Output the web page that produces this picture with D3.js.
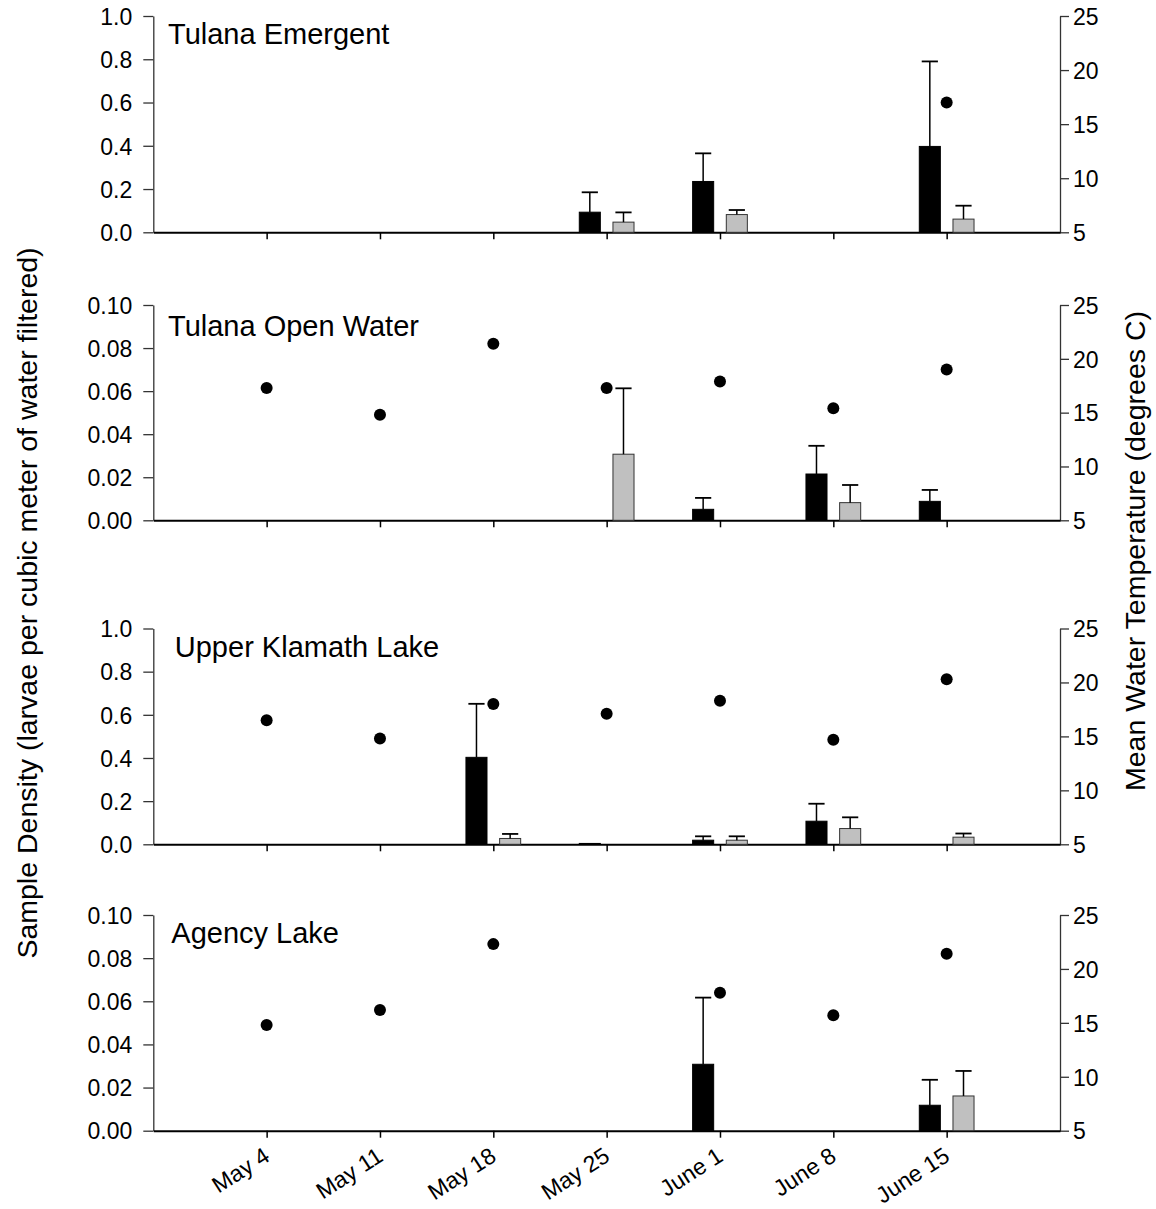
<!DOCTYPE html>
<html>
<head>
<meta charset="utf-8">
<script src="https://cdn.jsdelivr.net/npm/d3@7"></script>
<style>
  body { margin: 0; background: #fff; }
  svg text { font-family: "Liberation Sans", Arial, Helvetica, sans-serif; fill: #000; }
</style>
</head>
<body>
<svg id="chart" width="1156" height="1209"></svg>
<script>
// Sampling weeks: day offset from May 4 and the tick label for each week
const weekLabels = ["May 4", "May 11", "May 18", "May 25", "June 1", "June 8", "June 15"];
const weekDays = [0, 7, 14, 21, 28, 35, 42];

// Sites, one panel each
const siteNames = ["Tulana Emergent", "Tulana Open Water", "Upper Klamath Lake", "Agency Lake"];
const densityMax = [1.0, 0.10, 1.0, 0.10];
const densityTicksWide = [0, 0.2, 0.4, 0.6, 0.8, 1.0];
const densityTicksFine = [0, 0.02, 0.04, 0.06, 0.08, 0.10];
const tempTicks = [5, 10, 15, 20, 25];

// Mean water temperature (degrees C) per week; null = not recorded
const tempTulanaEmergent = [null, null, null, null, null, null, 17.0];
const tempTulanaOpen     = [17.3, 14.8, 21.4, 17.3, 17.9, 15.4, 19.0];
const tempUpperKlamath   = [16.5, 14.8, 18.0, 17.1, 18.3, 14.7, 20.3];
const tempAgency         = [14.8, 16.2, 22.3, null, 17.8, 15.7, 21.4];

// Black bars: mean density and its standard error
const blackMeanTulanaEmergent = [null, null, null, 0.093, 0.235, null, 0.397];
const blackErrTulanaEmergent  = [null, null, null, 0.092, 0.130, null, 0.393];
const blackMeanTulanaOpen     = [null, null, null, null, 0.0051, 0.0215, 0.0088];
const blackErrTulanaOpen      = [null, null, null, null, 0.0053, 0.0131, 0.0053];
const blackMeanUpperKlamath   = [null, null, 0.403, 0.004, 0.019, 0.107, null];
const blackErrUpperKlamath    = [null, null, 0.248, 0.0, 0.018, 0.081, null];
const blackMeanAgency         = [null, null, null, null, 0.0308, null, 0.0118];
const blackErrAgency          = [null, null, null, null, 0.0309, null, 0.0118];

// Grey bars: mean density and its standard error
const greyMeanTulanaEmergent = [null, null, null, 0.047, 0.082, null, 0.061];
const greyErrTulanaEmergent  = [null, null, null, 0.045, 0.021, null, 0.062];
const greyMeanTulanaOpen     = [null, null, null, 0.0307, null, 0.0082, null];
const greyErrTulanaOpen      = [null, null, null, 0.0306, null, 0.0082, null];
const greyMeanUpperKlamath   = [null, null, 0.027, null, 0.019, 0.073, 0.033];
const greyErrUpperKlamath    = [null, null, 0.021, null, 0.018, 0.052, 0.017];
const greyMeanAgency         = [null, null, null, null, null, null, 0.0161];
const greyErrAgency          = [null, null, null, null, null, null, 0.0116];

// ---- assemble per-panel series ----
const panels = [
  { temp: tempTulanaEmergent, bm: blackMeanTulanaEmergent, be: blackErrTulanaEmergent, gm: greyMeanTulanaEmergent, ge: greyErrTulanaEmergent, ticks: densityTicksWide, fmt: ".1f" },
  { temp: tempTulanaOpen,     bm: blackMeanTulanaOpen,     be: blackErrTulanaOpen,     gm: greyMeanTulanaOpen,     ge: greyErrTulanaOpen,     ticks: densityTicksFine, fmt: ".2f" },
  { temp: tempUpperKlamath,   bm: blackMeanUpperKlamath,   be: blackErrUpperKlamath,   gm: greyMeanUpperKlamath,   ge: greyErrUpperKlamath,   ticks: densityTicksWide, fmt: ".1f" },
  { temp: tempAgency,         bm: blackMeanAgency,         be: blackErrAgency,         gm: greyMeanAgency,         ge: greyErrAgency,         ticks: densityTicksFine, fmt: ".2f" }
].map((p, i) => Object.assign(p, { name: siteNames[i], max: densityMax[i] }));

// ---- layout ----
const plotLeft = 153.3, plotRight = 1060;
const bands = [[16, 232.3], [305, 520.3], [628.5, 844.3], [915, 1130.7]];
const titlePos = [[14.7, 28], [14.7, 30.5], [21.5, 28.5], [18, 27.5]];
const tickFont = "23px";
const barWidthDays = 1.3;
const barShiftDays = 1.04;
const capWidthDays = 1.0;

const svg = d3.select("#chart");
const x = d3.scaleLinear().domain([-7, 49]).range([plotLeft, plotRight]);
const barW = x(barWidthDays) - x(0);
const capW = x(capWidthDays) - x(0);

panels.forEach((p, i) => {
  const [top, bottom] = bands[i];
  const y = d3.scaleLinear().domain([0, p.max]).range([bottom, top]);
  const yT = d3.scaleLinear().domain([5, 25]).range([bottom, top]);
  const g = svg.append("g");

  // left density axis
  const la = g.append("g").attr("transform", `translate(${plotLeft},0)`)
    .call(d3.axisLeft(y).tickValues(p.ticks).tickFormat(d3.format(p.fmt)).tickSize(10).tickSizeOuter(0));
  la.select(".domain").attr("stroke", "#333").attr("stroke-width", 1.3);
  la.selectAll(".tick line").attr("stroke", "#333").attr("stroke-width", 1.3);
  la.selectAll(".tick text").attr("x", -21).attr("dy", "0.36em")
    .style("font-size", tickFont);

  // right temperature axis
  const ra = g.append("g").attr("transform", `translate(${plotRight},0)`)
    .call(d3.axisRight(yT).tickValues(tempTicks).tickSize(9).tickSizeOuter(0));
  ra.select(".domain").attr("stroke", "#333").attr("stroke-width", 1.3);
  ra.selectAll(".tick line").attr("stroke", "#333").attr("stroke-width", 1.3);
  ra.selectAll(".tick text").attr("x", 13).attr("dy", "0.36em")
    .style("font-size", tickFont);

  // bottom date axis
  const isLast = i === panels.length - 1;
  const xa = g.append("g").attr("transform", `translate(0,${bottom})`)
    .call(d3.axisBottom(x).tickValues(weekDays)
      .tickFormat((d, k) => isLast ? weekLabels[k] : "")
      .tickSize(7).tickSizeOuter(0));
  xa.select(".domain").attr("stroke", "#000").attr("stroke-width", 2);
  xa.selectAll(".tick line").attr("stroke", "#000").attr("stroke-width", 1.5);
  xa.selectAll(".tick text").attr("y", null).attr("dy", null)
    .attr("text-anchor", "end")
    .attr("transform", "translate(4,29) rotate(-33)")
    .style("font-size", tickFont);

  // bars
  const bars = [];
  weekDays.forEach((d, k) => {
    if (p.bm[k] != null) bars.push({ day: d - barShiftDays, v: p.bm[k], e: p.be[k], fill: "#000", stroke: "#000" });
    if (p.gm[k] != null) bars.push({ day: d + barShiftDays, v: p.gm[k], e: p.ge[k], fill: "#c0c0c0", stroke: "#333" });
  });
  g.selectAll("rect.bar").data(bars).join("rect")
    .attr("class", "bar")
    .attr("x", d => x(d.day) - barW / 2)
    .attr("width", barW)
    .attr("y", d => y(d.v))
    .attr("height", d => bottom - y(d.v))
    .attr("fill", d => d.fill)
    .attr("stroke", d => d.stroke)
    .attr("stroke-width", 1);

  // upper standard-error whiskers
  const errs = bars.filter(d => d.e > 0);
  g.selectAll("line.err").data(errs).join("line")
    .attr("class", "err")
    .attr("x1", d => x(d.day)).attr("x2", d => x(d.day))
    .attr("y1", d => y(d.v)).attr("y2", d => y(d.v + d.e))
    .attr("stroke", "#000").attr("stroke-width", 1.5);
  g.selectAll("line.cap").data(errs).join("line")
    .attr("class", "cap")
    .attr("x1", d => x(d.day) - capW / 2).attr("x2", d => x(d.day) + capW / 2)
    .attr("y1", d => y(d.v + d.e)).attr("y2", d => y(d.v + d.e))
    .attr("stroke", "#000").attr("stroke-width", 1.8);

  // temperature points
  const pts = weekDays.map((d, k) => ({ day: d, t: p.temp[k] })).filter(d => d.t != null);
  g.selectAll("circle.temp").data(pts).join("circle")
    .attr("class", "temp")
    .attr("cx", d => x(d.day)).attr("cy", d => yT(d.t))
    .attr("r", 6)
    .attr("fill", "#000");

  // site name
  g.append("text")
    .attr("x", plotLeft + titlePos[i][0])
    .attr("y", top + titlePos[i][1])
    .style("font-size", "29px")
    .text(p.name);
});

// axis titles
svg.append("text")
  .attr("transform", "translate(37,603) rotate(-90)")
  .attr("text-anchor", "middle")
  .style("font-size", "28.5px")
  .text("Sample Density (larvae per cubic meter of water filtered)");

svg.append("text")
  .attr("transform", "translate(1145,551) rotate(-90)")
  .attr("text-anchor", "middle")
  .style("font-size", "28.5px")
  .text("Mean Water Temperature (degrees C)");
</script>
</body>
</html>
